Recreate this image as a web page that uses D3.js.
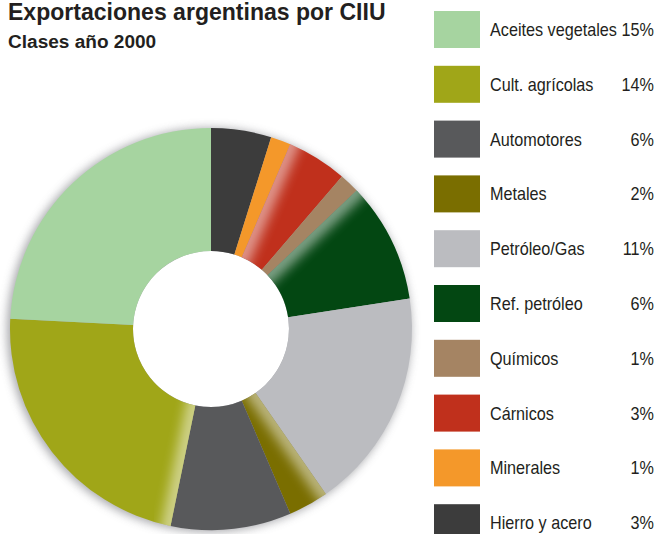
<!DOCTYPE html>
<html>
<head>
<meta charset="utf-8">
<script src="https://cdn.jsdelivr.net/npm/d3@7"></script>
<style>
  body { margin: 0; background: #fff; }
  text { font-family: "Liberation Sans", Arial, sans-serif; }
</style>
</head>
<body>
<script>
// legend order, top to bottom
var categories = ["Aceites vegetales", "Cult. agrícolas", "Automotores", "Metales", "Petróleo/Gas",
                  "Ref. petróleo", "Químicos", "Cárnicos", "Minerales", "Hierro y acero"];
var values = [15, 14, 6, 2, 11, 6, 1, 3, 1, 3];
var colors = ["#a6d4a0", "#a0a618", "#58595b", "#7a6e00", "#bbbcc0",
              "#034712", "#a58463", "#c0301c", "#f4982a", "#3c3c3c"];
// which edge of a slice gets the soft light sheen
var sheen = {"Aceites vegetales": "end", "Cult. agrícolas": "start", "Metales": "start",
             "Ref. petróleo": "start", "Cárnicos": "start"};

var width = 659, height = 534;
var cx = 211, cy = 329, outerR = 201, innerR = 78;

var svg = d3.select("body").append("svg")
    .attr("width", width)
    .attr("height", height);

var defs = svg.append("defs");
defs.append("filter").attr("id", "shadowBlur")
    .attr("x", "-20%").attr("y", "-20%").attr("width", "140%").attr("height", "140%")
    .append("feGaussianBlur").attr("stdDeviation", 5);
defs.append("filter").attr("id", "sheenBlur")
    .attr("x", "-50%").attr("y", "-50%").attr("width", "200%").attr("height", "200%")
    .append("feGaussianBlur").attr("stdDeviation", 6);

// condensed look: squeeze text horizontally
function label(parent, x, y, size, sx, txt) {
    return parent.append("text")
        .attr("transform", "translate(" + x + "," + y + ") scale(" + sx + ",1)")
        .attr("font-size", size + "px")
        .attr("fill", "#231f20")
        .text(txt);
}

// titles
label(svg, 8, 20, 24, 0.96, "Exportaciones argentinas por CIIU").attr("font-weight", "bold");
label(svg, 8, 48, 18.5, 1.03, "Clases año 2000").attr("font-weight", "bold");

// donut
var data = categories.map(function(c, i) {
    return {name: c, value: values[i], color: colors[i]};
}).reverse();

var pie = d3.pie().sort(null).value(function(d) { return d.value; });
var arc = d3.arc().innerRadius(innerR).outerRadius(outerR);
var arcs = pie(data);

var g = svg.append("g").attr("transform", "translate(" + cx + "," + cy + ")");

g.append("circle")
    .attr("r", outerR + 1)
    .attr("cx", -2).attr("cy", 1)
    .attr("fill", "#8a8b90")
    .attr("opacity", 0.75)
    .attr("filter", "url(#shadowBlur)");

g.append("circle")
    .attr("r", innerR)
    .attr("fill", "#fff");

arcs.forEach(function(a, i) {
    defs.append("clipPath").attr("id", "clip" + i)
        .append("path").attr("d", arc(a));
});

g.selectAll("path.slice")
    .data(arcs)
    .enter()
    .append("path")
    .attr("class", "slice")
    .attr("d", arc)
    .attr("fill", function(d) { return d.data.color; });

// soft light along one edge of some slices
var sheenG = g.append("g");
arcs.forEach(function(a, i) {
    var side = sheen[a.data.name];
    if (!side) return;
    var t = side === "end" ? a.endAngle : a.startAngle;
    sheenG.append("g")
        .attr("clip-path", "url(#clip" + i + ")")
        .append("line")
        .attr("x1", Math.sin(t) * (innerR - 10))
        .attr("y1", -Math.cos(t) * (innerR - 10))
        .attr("x2", Math.sin(t) * (outerR + 10))
        .attr("y2", -Math.cos(t) * (outerR + 10))
        .attr("stroke", "#fff")
        .attr("stroke-width", 18)
        .attr("opacity", 0.5)
        .attr("filter", "url(#sheenBlur)");
});

// legend
var legendTop = 11, legendStep = 54.8;
var legend = svg.append("g");

categories.forEach(function(c, i) {
    var y0 = legendTop + i * legendStep;
    legend.append("rect")
        .attr("x", 434)
        .attr("y", y0)
        .attr("width", 46)
        .attr("height", 37)
        .attr("fill", colors[i]);
    label(legend, 490, y0 + 25, 18, 0.9, c);
    label(legend, 654, y0 + 25, 18, 0.9, values[i] + "%").attr("text-anchor", "end");
});
</script>
</body>
</html>
